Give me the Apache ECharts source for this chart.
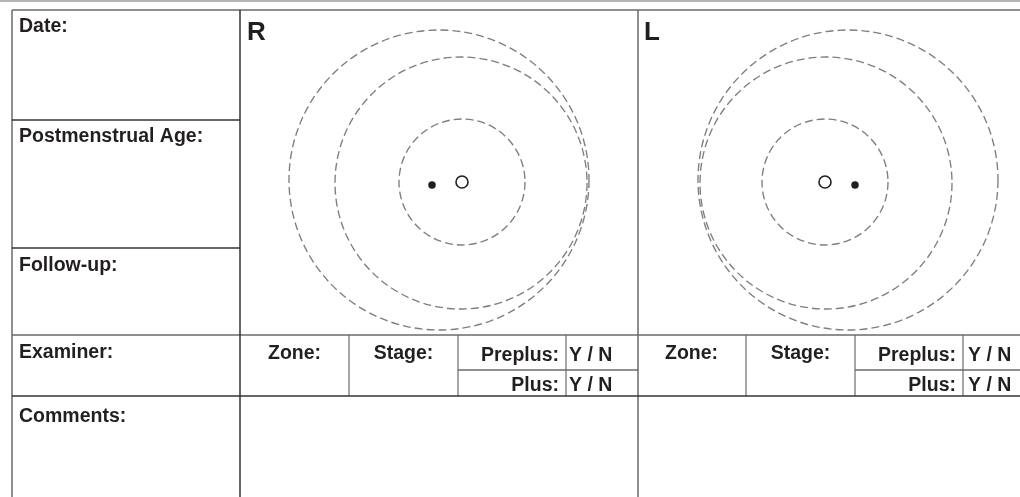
<!DOCTYPE html>
<html>
<head>
<meta charset="utf-8">
<script src="https://cdn.jsdelivr.net/npm/echarts@6/dist/echarts.min.js"></script>
<style>
  html, body { margin: 0; padding: 0; background: #fff; }
  #sheet { width: 1020px; height: 497px; }
</style>
</head>
<body>
<div id="sheet"></div>
<script>
// form rules, in sheet units [x1, y1, x2, y2]
var paleRules = [[0, 1, 1020, 1]];
var darkRules = [
  [240, 10, 240, 497],
  [12, 120, 240, 120],
  [12, 248, 240, 248],
  [12, 396, 1020, 396]
];
var midRules = [
  [12, 10, 1020, 10],
  [12, 10, 12, 497],
  [638, 10, 638, 497],
  [12, 335, 1020, 335],
  [458, 370, 638, 370],
  [855, 370, 1020, 370]
];
var lightRules = [
  [349, 335, 349, 396],
  [458, 335, 458, 396],
  [566, 335, 566, 396],
  [746, 335, 746, 396],
  [855, 335, 855, 396],
  [963, 335, 963, 396]
];

// zone circles [cx, cy, r] : zone I, zone II, periphery
var rightZones = [[462, 182, 63], [461, 183, 126], [439, 180, 150]];
var leftZones = [[825, 182, 63], [826, 183, 126], [848, 180, 150]];
var discs = [[462, 182], [825, 182]];
var foveas = [[432, 185], [855, 185]];

// labels [text, x, y]
var leftLabels = [
  ["Date:", 19, 27],
  ["Postmenstrual Age:", 19, 137],
  ["Follow-up:", 19, 266],
  ["Examiner:", 19, 353],
  ["Comments:", 19, 417],
  ["Y / N", 569, 356],
  ["Y / N", 569, 386],
  ["Y / N", 968, 356],
  ["Y / N", 968, 386]
];
var eyeLabels = [["R", 247, 33], ["L", 644, 33]];
var centerLabels = [
  ["Zone:", 294.5, 354],
  ["Stage:", 403.5, 354],
  ["Zone:", 691.5, 354],
  ["Stage:", 800.5, 354]
];
var rightLabels = [
  ["Preplus:", 559, 356],
  ["Plus:", 559, 386],
  ["Preplus:", 956, 356],
  ["Plus:", 956, 386]
];

var FONT = 'bold 19.5px "Liberation Sans", Arial, sans-serif';
var INK = "#231f20";

function ruleSeries(rules, color, width) {
  return {
    type: "custom",
    silent: true,
    data: rules,
    renderItem: function (params, api) {
      var a = api.coord([api.value(0), api.value(1)]);
      var b = api.coord([api.value(2), api.value(3)]);
      return {
        type: "line",
        shape: { x1: a[0], y1: a[1], x2: b[0], y2: b[1] },
        style: { stroke: color, lineWidth: width }
      };
    }
  };
}

function zoneSeries(zones) {
  return {
    type: "custom",
    silent: true,
    data: zones,
    renderItem: function (params, api) {
      var c = api.coord([api.value(0), api.value(1)]);
      var r = api.size([api.value(2), 0])[0];
      return {
        type: "circle",
        shape: { cx: c[0], cy: c[1], r: r },
        style: { fill: "none", stroke: "#7e7e7e", lineWidth: 1.35, lineDash: [8, 4] }
      };
    }
  };
}

function labelSeries(labels, align, font) {
  return {
    type: "custom",
    silent: true,
    data: labels.map(function (l) { return [l[1], l[2]]; }),
    renderItem: function (params, api) {
      var p = api.coord([api.value(0), api.value(1)]);
      return {
        type: "text",
        style: {
          text: labels[params.dataIndex][0],
          x: p[0],
          y: p[1],
          font: font,
          fill: INK,
          textAlign: align,
          textVerticalAlign: "middle"
        }
      };
    }
  };
}

var chart = echarts.init(document.getElementById("sheet"));
chart.setOption({
  animation: false,
  backgroundColor: "#fff",
  grid: { left: 0, right: 0, top: 0, bottom: 0 },
  xAxis: { type: "value", min: 0, max: 1020, show: false },
  yAxis: { type: "value", min: 0, max: 497, inverse: true, show: false },
  series: [
    ruleSeries(paleRules, "#b4b4b4", 2),
    ruleSeries(lightRules, "#8a8a8a", 1.5),
    ruleSeries(midRules, "#6a6a6a", 1.5),
    ruleSeries(darkRules, "#333", 1.5),
    zoneSeries(rightZones),
    zoneSeries(leftZones),
    {
      type: "scatter",
      silent: true,
      data: discs,
      symbol: "circle",
      symbolSize: 12,
      itemStyle: { color: "#fff", borderColor: INK, borderWidth: 1.6, opacity: 1 }
    },
    {
      type: "scatter",
      silent: true,
      data: foveas,
      symbol: "circle",
      symbolSize: 7.5,
      itemStyle: { color: INK, opacity: 1 }
    },
    labelSeries(leftLabels, "left", FONT),
    labelSeries(centerLabels, "center", FONT),
    labelSeries(rightLabels, "right", FONT),
    labelSeries(eyeLabels, "left", 'bold 26px "Liberation Sans", Arial, sans-serif')
  ]
});
</script>
</body>
</html>
